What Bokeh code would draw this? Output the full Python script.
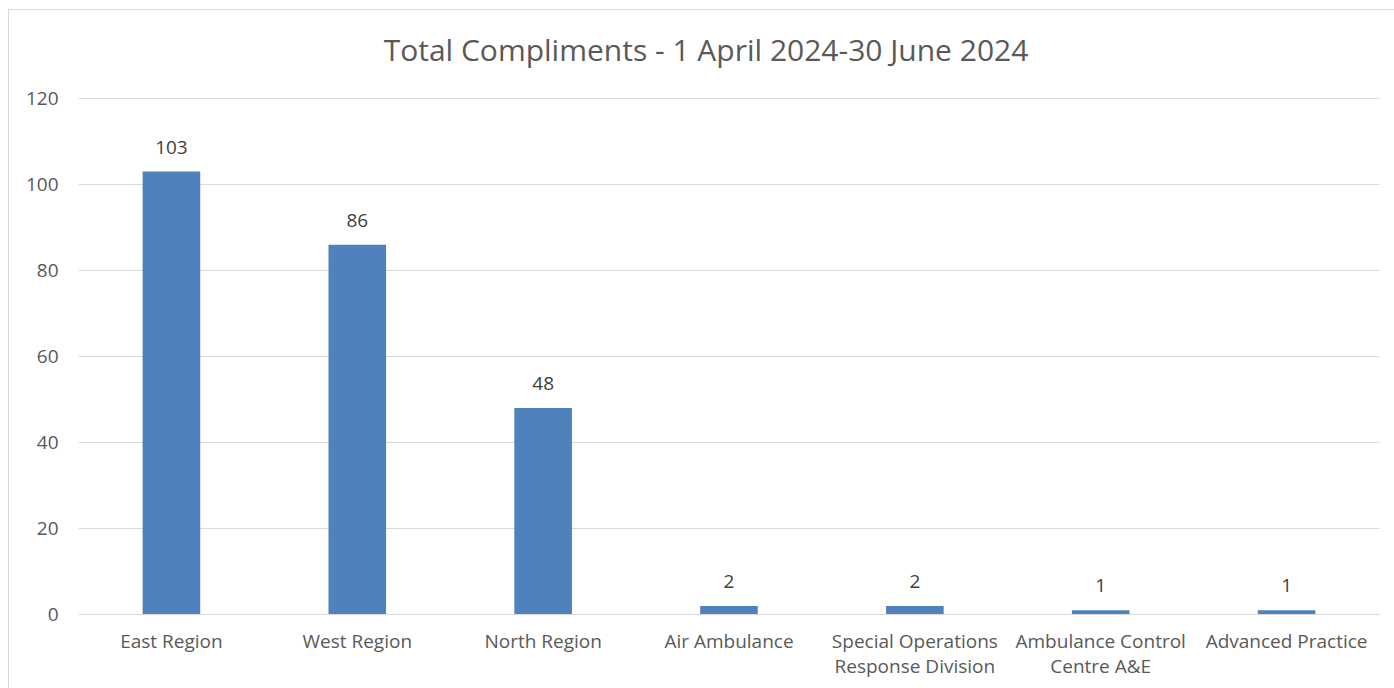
from bokeh.plotting import figure
from bokeh.models import ColumnDataSource, Range1d, FixedTicker, LabelSet, Label
from bokeh.core.properties import value
from bokeh.embed import file_html
from bokeh.resources import INLINE

title_text = "Total Compliments - 1 April 2024-30 June 2024"
categories = ["East Region", "West Region", "North Region", "Air Ambulance",
              "Special Operations\nResponse Division", "Ambulance Control\nCentre A&E",
              "Advanced Practice"]
values = [103, 86, 48, 2, 2, 1, 1]
y_ticks = [0, 20, 40, 60, 80, 100, 120]

src = ColumnDataSource(dict(cat=categories, val=values, lab=[str(v) for v in values]))

# layout in pixels: value axis 0..120 spans 516 px; extra headroom above it holds the title
FIG_H, BORDER_TOP, BORDER_BOTTOM, AXIS_PX = 679, 11, 75, 516
frame_px = FIG_H - BORDER_TOP - BORDER_BOTTOM
y_end = y_ticks[-1] * frame_px / AXIS_PX

p = figure(x_range=categories, y_range=Range1d(0, y_end), width=1386, height=FIG_H,
           output_backend="svg", toolbar_location=None,
           min_border_left=69, min_border_right=16,
           min_border_top=BORDER_TOP, min_border_bottom=BORDER_BOTTOM,
           styles={"margin-left": "8px", "margin-top": "9px",
                   "border-top": "1px solid #d9d9d9", "border-left": "1px solid #d9d9d9"})

p.vbar(x="cat", top="val", width=0.31, source=src, color="#4F81BD", line_color=None)

labels = LabelSet(x="cat", y="val", text="lab", source=src, text_align="center",
                  text_baseline="bottom", y_offset=18, text_font_size="19px",
                  text_color="#404040", text_font=value("Open Sans"))
p.add_layout(labels)

# title centred over the whole chart area (slightly left of the plot frame centre)
title = Label(x=len(categories) / 2, y=y_ticks[-1], x_offset=-23, y_offset=49,
              text=title_text, text_align="center", text_baseline="middle",
              text_font="Open Sans", text_font_size="30px", text_color="#595959")
p.add_layout(title)

p.outline_line_color = None
p.xgrid.grid_line_color = None
p.ygrid.grid_line_color = "#d9d9d9"
p.ygrid.grid_line_width = 1

p.yaxis.ticker = FixedTicker(ticks=y_ticks)
p.yaxis.axis_line_color = None
p.yaxis.major_tick_line_color = None
p.yaxis.minor_tick_line_color = None
p.yaxis.major_label_text_font = "Open Sans"
p.yaxis.major_label_text_font_size = "19px"
p.yaxis.major_label_text_color = "#595959"
p.yaxis.major_label_standoff = 14

p.xaxis.axis_line_color = "#d9d9d9"
p.xaxis.major_tick_line_color = None
p.xaxis.minor_tick_line_color = None
p.xaxis.major_label_text_font = "Open Sans"
p.xaxis.major_label_text_font_size = "19px"
p.xaxis.major_label_text_color = "#595959"
p.xaxis.major_label_text_line_height = 0.97
p.xaxis.major_label_standoff = 7
p.x_range.range_padding = 0

open("out.html", "w").write(file_html(p, INLINE))
